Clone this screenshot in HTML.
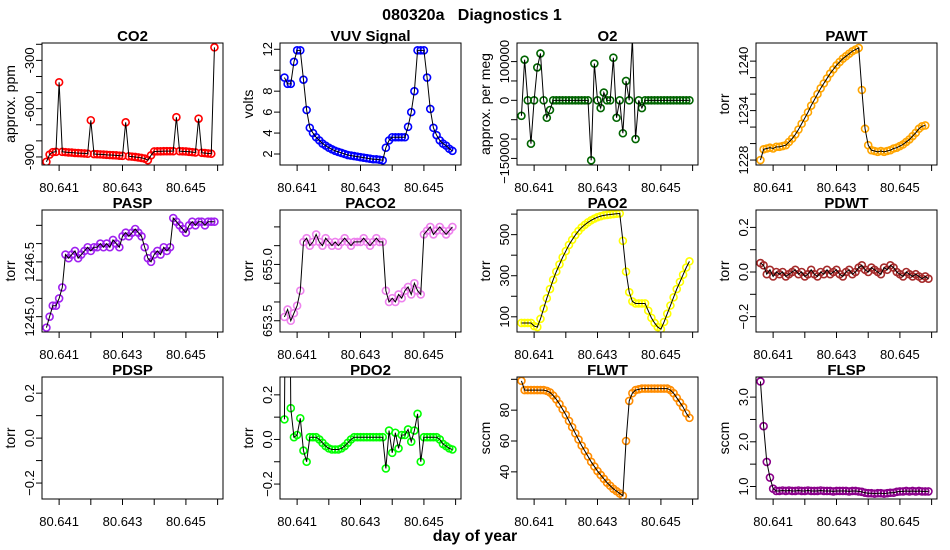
<!DOCTYPE html>
<html><head><meta charset="utf-8">
<style>
html,body{margin:0;padding:0;background:#fff;}
svg{display:block;font-family:"Liberation Sans",Arial,sans-serif;}
</style></head>
<body>
<svg id="chart" width="950" height="550" viewBox="0 0 950 550" xmlns="http://www.w3.org/2000/svg">
<text x="472" y="20" text-anchor="middle" font-size="16" font-weight="bold" style="white-space:pre">080320a   Diagnostics 1</text>
<text x="475" y="541" text-anchor="middle" font-size="16" font-weight="bold">day of year</text>
</svg>
<script>
// ---- data ----
const xTicks = [80.641, 80.642, 80.643, 80.644, 80.645, 80.646];
const xTickLabels = ["80.641", "", "80.643", "", "80.645", ""];
const timeStart = 80.6406;
const timeStep = 0.0001;

const co2 = [-930,-885,-870,-868,-436,-868,-870,-872,-873,-875,-876,-877,-878,-880,-672,-882,-883,-884,-885,-887,-888,-889,-890,-892,-893,-685,-896,-898,-900,-903,-906,-910,-920,-890,-866,-865,-865,-864,-864,-864,-864,-653,-864,-865,-866,-868,-870,-872,-662,-874,-876,-878,-880,-219];
const vuv = [9.3,8.7,8.7,10.8,11.9,11.9,9.1,6.2,4.5,4.0,3.6,3.3,3.0,2.8,2.6,2.45,2.3,2.2,2.1,2.0,1.9,1.85,1.8,1.75,1.7,1.65,1.6,1.55,1.5,1.5,1.45,1.4,2.6,3.3,3.6,3.6,3.6,3.6,3.6,4.6,6.0,8.0,11.9,11.9,11.9,9.3,6.3,4.5,3.8,3.3,3.0,2.8,2.5,2.3];
const o2 = [-40000,105000,0,-112000,0,85000,121000,0,-45000,-25000,0,0,0,0,0,0,0,0,0,0,0,0,-155000,95000,0,-20000,20000,0,0,110000,-45000,0,-85000,50000,0,160000,-100000,0,-20000,0,0,0,0,0,0,0,0,0,0,0,0,0,0,0];
const pawt = [1228,1229.3,1229.4,1229.5,1229.4,1229.6,1229.6,1229.7,1229.8,1230.2,1230.6,1231.1,1231.7,1232.4,1233.1,1233.8,1234.6,1235.3,1236.0,1236.7,1237.3,1237.9,1238.5,1239.0,1239.5,1239.9,1240.3,1240.6,1240.9,1241.2,1241.4,1241.6,1236.5,1231.8,1229.8,1229.2,1229.1,1229.0,1229.1,1229.0,1229.1,1229.2,1229.4,1229.5,1229.7,1229.9,1230.2,1230.5,1230.9,1231.3,1231.8,1232.1,1232.2];
const pasp = [1244.7,1245.0,1245.3,1245.3,1245.5,1245.8,1246.7,1246.6,1246.7,1246.8,1246.6,1246.7,1246.8,1246.9,1246.8,1246.9,1246.9,1247.0,1246.9,1247.0,1246.9,1247.1,1247.0,1246.9,1247.2,1247.3,1247.2,1247.3,1247.4,1247.3,1247.2,1246.9,1246.6,1246.5,1246.7,1246.8,1246.7,1246.9,1246.8,1246.9,1247.7,1247.6,1247.5,1247.4,1247.3,1247.5,1247.6,1247.5,1247.6,1247.6,1247.5,1247.6,1247.6,1247.6];
const paco2 = [653.6,653.8,653.5,653.7,653.9,654.3,655.6,655.7,655.5,655.6,655.8,655.6,655.5,655.7,655.6,655.5,655.6,655.5,655.6,655.7,655.6,655.5,655.6,655.6,655.6,655.7,655.6,655.5,655.6,655.7,655.6,655.6,654.3,654.0,654.1,654.0,654.2,654.1,654.3,654.4,654.2,654.5,654.3,654.2,655.8,655.9,656.0,655.8,655.9,656.0,655.9,655.8,655.9,656.0];
const pao2 = [70,70,70,70,55,50,90,140,190,235,280,320,355,390,420,450,475,498,518,535,548,560,570,578,585,590,594,596,598,600,602,603,470,320,220,175,165,165,165,165,130,95,70,50,40,75,115,155,195,235,270,305,340,370];
const pdwt = [0.04,0.03,-0.01,0.01,-0.02,0.0,-0.01,0.0,-0.02,-0.01,0.0,0.01,-0.01,0.0,-0.02,-0.01,0.01,-0.01,-0.02,0.0,-0.01,0.01,-0.01,0.0,0.01,-0.01,-0.02,0.0,0.01,-0.01,0.0,0.02,0.03,0.01,0.0,0.02,0.01,0.0,-0.01,0.02,0.01,0.03,0.02,0.0,-0.01,-0.02,0.0,-0.01,-0.02,-0.01,-0.02,-0.03,-0.02,-0.03];
const pdsp = [];
const pdo2 = [0.09,2.0,0.14,0.01,0.02,0.095,-0.05,-0.1,0.01,0.01,0.01,0.0,-0.015,-0.03,-0.04,-0.045,-0.045,-0.045,-0.04,-0.03,-0.015,0.0,0.01,0.01,0.01,0.01,0.01,0.01,0.01,0.01,0.01,0.01,-0.13,0.04,-0.06,0.03,-0.04,0.02,0.02,0.045,-0.01,0.04,0.115,-0.1,0.01,0.01,0.01,0.01,0.01,0.0,-0.02,-0.03,-0.04,-0.045];
const flwt = [99,93,93,93,93,93,93,93,92.5,91.5,89.5,87,84,80.5,77,73,69,65,61,57,53.5,50,46.5,43.5,40.5,38,35.5,33,31,29,27.5,26,24.5,60,86,91,93,93.5,94,94,94,94,94,94,94,94,94,93,91,88,85,82,78,75];
const flsp = [3.35,2.35,1.55,1.2,0.95,0.9,0.9,0.91,0.9,0.91,0.9,0.9,0.91,0.9,0.9,0.91,0.9,0.9,0.9,0.91,0.9,0.9,0.9,0.89,0.9,0.9,0.9,0.9,0.89,0.9,0.9,0.89,0.88,0.86,0.85,0.85,0.84,0.85,0.85,0.84,0.85,0.86,0.86,0.88,0.89,0.89,0.9,0.89,0.9,0.89,0.9,0.89,0.89,0.89];

const co2Ticks = [-900,-800,-700,-600,-500,-400,-300,-200];
const co2TickLabels = ["-900","","","-600","","","-300",""];
const vuvTicks = [2,4,6,8,10,12];
const vuvTickLabels = ["2","4","6","8","","12"];
const o2Ticks = [-150000,-100000,-50000,0,50000,100000];
const o2TickLabels = ["\u2212150000","","","0","","100000"];
const pawtTicks = [1228,1230,1232,1234,1236,1238,1240];
const pawtTickLabels = ["1228","","","1234","","","1240"];
const paspTicks = [1245.0,1245.5,1246.0,1246.5,1247.0,1247.5];
const paspTickLabels = ["1245.0","","","1246.5","",""];
const paco2Ticks = [653.5,654.0,654.5,655.0,655.5,656.0];
const paco2TickLabels = ["653.5","","","655.0","",""];
const pao2Ticks = [100,200,300,400,500,600];
const pao2TickLabels = ["100","","300","","500",""];
const smallTicks = [-0.2,-0.1,0.0,0.1,0.2];
const smallTickLabels = ["\u22120.2","","0.0","","0.2"];
const flwtTicks = [40,60,80,100];
const flwtTickLabels = ["40","60","80",""];
const flspTicks = [1.0,1.5,2.0,2.5,3.0];
const flspTickLabels = ["1.0","","2.0","","3.0"];

// ---- layout ----
const NS = "http://www.w3.org/2000/svg";
const svg = document.getElementById("chart");
const colLeft = [42, 280, 517, 756];
const rowTop = [43, 210, 377];
const PW = 181, PH = 122;
const xMin = 80.64046, xMax = 80.64617;

const panels = [
  {key:"co2", title:"CO2", ylab:"approx. ppm", vals:co2, col:"#FF0000", ylim:[-950,-192], ticks:co2Ticks, labels:co2TickLabels},
  {key:"vuv", title:"VUV Signal", ylab:"volts", vals:vuv, col:"#0000FF", ylim:[0.95,12.6], ticks:vuvTicks, labels:vuvTickLabels},
  {key:"o2", title:"O2", ylab:"approx. per meg", vals:o2, col:"#006400", ylim:[-167000,148000], ticks:o2Ticks, labels:o2TickLabels},
  {key:"pawt", title:"PAWT", ylab:"torr", vals:pawt, col:"#FFA500", ylim:[1227.4,1242.2], ticks:pawtTicks, labels:pawtTickLabels},
  {key:"pasp", title:"PASP", ylab:"torr", vals:pasp, col:"#A020F0", ylim:[1244.58,1247.92], ticks:paspTicks, labels:paspTickLabels},
  {key:"paco2", title:"PACO2", ylab:"torr", vals:paco2, col:"#EE82EE", ylim:[653.2,656.45], ticks:paco2Ticks, labels:paco2TickLabels},
  {key:"pao2", title:"PAO2", ylab:"torr", vals:pao2, col:"#FFFF00", ylim:[26,620], ticks:pao2Ticks, labels:pao2TickLabels},
  {key:"pdwt", title:"PDWT", ylab:"torr", vals:pdwt, col:"#A52A2A", ylim:[-0.269,0.278], ticks:smallTicks, labels:smallTickLabels},
  {key:"pdsp", title:"PDSP", ylab:"torr", vals:pdsp, col:"#000000", ylim:[-0.271,0.272], ticks:smallTicks, labels:smallTickLabels},
  {key:"pdo2", title:"PDO2", ylab:"torr", vals:pdo2, col:"#00FF00", ylim:[-0.267,0.28], ticks:smallTicks, labels:smallTickLabels},
  {key:"flwt", title:"FLWT", ylab:"sccm", vals:flwt, col:"#FF8C00", ylim:[22.4,101.5], ticks:flwtTicks, labels:flwtTickLabels},
  {key:"flsp", title:"FLSP", ylab:"sccm", vals:flsp, col:"#8B008B", ylim:[0.72,3.45], ticks:flspTicks, labels:flspTickLabels}
];

function mk(tag, attrs, parent){
  const e = document.createElementNS(NS, tag);
  for (const k in attrs) e.setAttribute(k, attrs[k]);
  (parent||svg).appendChild(e);
  return e;
}

panels.forEach((p, idx) => {
  const L = colLeft[idx % 4], T = rowTop[Math.floor(idx / 4)];
  const sx = v => L + (v - xMin) / (xMax - xMin) * PW;
  const sy = v => T + PH - (v - p.ylim[0]) / (p.ylim[1] - p.ylim[0]) * PH;

  const g = mk("g", {});
  
  

  const clip = mk("clipPath", {id:"clip-" + p.key}, g);
  mk("rect", {x:L, y:T, width:PW, height:PH}, clip);

  const plot = mk("g", {"clip-path":"url(#clip-" + p.key + ")"}, g);
  
  

  if (p.vals.length) {
    p.vals.forEach((v, i) => {
      const c = mk("circle", {cx:sx(timeStart + i * timeStep).toFixed(2), cy:sy(v).toFixed(2), r:3.5, fill:"none", stroke:p.col, "stroke-width":1.6}, plot);
      
      
    });
    const pts = p.vals.map((v, i) => sx(timeStart + i * timeStep).toFixed(2) + "," + sy(v).toFixed(2)).join(" ");
    const line = mk("polyline", {points:pts, fill:"none", stroke:"#000", "stroke-width":1}, plot);
    
    
  }

  const box = mk("rect", {x:L, y:T, width:PW, height:PH, fill:"none", stroke:"#000", "stroke-width":1}, g);
  
  

  const title = mk("text", {x:L + PW / 2, y:T - 2, "text-anchor":"middle", "font-size":15, "font-weight":"bold"}, g);
  title.textContent = p.title;
  
  

  xTicks.forEach((t, i) => {
    const x = sx(t);
    const tk = mk("line", {x1:x, y1:T + PH, x2:x, y2:T + PH + 6, stroke:"#000", "stroke-width":1}, g);
    
    
    if (xTickLabels[i]) {
      const tl = mk("text", {x:x, y:T + PH + 27, "text-anchor":"middle", "font-size":13}, g);
      tl.textContent = xTickLabels[i];
      
      
    }
  });

  p.ticks.forEach((t, i) => {
    const y = sy(t);
    const tk = mk("line", {x1:L - 6, y1:y, x2:L, y2:y, stroke:"#000", "stroke-width":1}, g);
    
    
    if (p.labels[i]) {
      const tl = mk("text", {x:L - 8, y:y, "text-anchor":"middle", "font-size":13, transform:"rotate(-90 " + (L - 8) + " " + y + ")"}, g);
      tl.textContent = p.labels[i];
      
      
    }
  });

  const yl = mk("text", {x:L - 27, y:T + PH / 2, "text-anchor":"middle", "font-size":14, transform:"rotate(-90 " + (L - 27) + " " + (T + PH / 2) + ")"}, g);
  yl.textContent = p.ylab;
  
  
});
</script>
</body></html>
